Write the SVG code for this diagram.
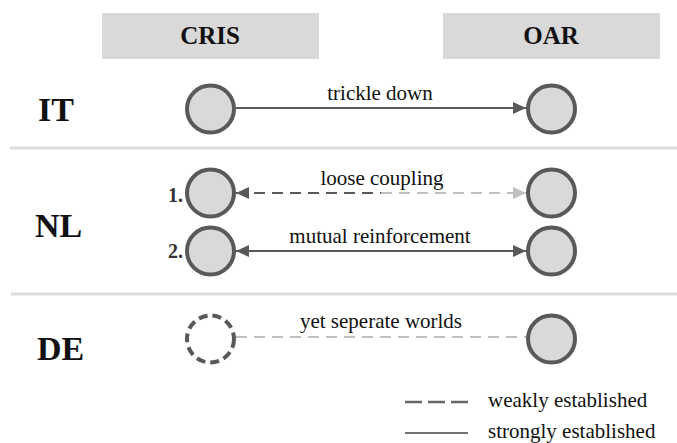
<svg xmlns="http://www.w3.org/2000/svg" width="677" height="443" viewBox="0 0 677 443">
<style>
text{font-family:"Liberation Serif","Times New Roman",serif;fill:#111}
.hdr{font-size:25px;font-weight:bold;text-anchor:middle}
.row{font-size:34px;font-weight:bold}
.num{font-size:20px;font-weight:bold;text-anchor:end;fill:#333}
.lbl{font-size:21px;text-anchor:middle}
.leg{font-size:21px}
.box{fill:#d9d9d9}
.sep{stroke:#dcdcdc;stroke-width:3}
.node{fill:#d9d9d9;stroke:#595959;stroke-width:4}
.dnode{fill:#fff;stroke:#595959;stroke-width:4;stroke-dasharray:9 5}
.dark{stroke:#595959;stroke-width:2;fill:none}
.light{stroke:#bfbfbf;stroke-width:2;fill:none}
.dash{stroke-dasharray:11 7}
</style>
<defs>
<marker id="ad" viewBox="0 0 13 12" refX="13" refY="6" markerWidth="13" markerHeight="12" markerUnits="userSpaceOnUse" orient="auto-start-reverse"><path d="M0,0 L13,6 L0,12 z" fill="#595959"/></marker>
<marker id="al" viewBox="0 0 13 12" refX="13" refY="6" markerWidth="13" markerHeight="12" markerUnits="userSpaceOnUse" orient="auto-start-reverse"><path d="M0,0 L13,6 L0,12 z" fill="#bfbfbf"/></marker>
</defs>
<g id="headers">
<rect class="box" x="102" y="13" width="217" height="46"/>
<text class="hdr" x="210" y="44">CRIS</text>
<rect class="box" x="443" y="13" width="217" height="46"/>
<text class="hdr" x="551" y="44">OAR</text>
</g>
<g id="separators">
<line class="sep" x1="10" y1="148" x2="677" y2="148"/>
<line class="sep" x1="11" y1="294" x2="677" y2="294"/>
</g>
<g id="row-labels">
<text class="row" x="38" y="121">IT</text>
<text class="row" x="35" y="237">NL</text>
<text class="row" x="37" y="360">DE</text>
<text class="num" x="183" y="202">1.</text>
<text class="num" x="183" y="258">2.</text>
</g>
<g id="connectors">
<line class="dark" x1="236" y1="108" x2="526" y2="108" marker-end="url(#ad)"/>
<line class="dark dash" x1="236" y1="193" x2="381" y2="193" marker-start="url(#ad)"/>
<line class="light dash" x1="381" y1="193" x2="526" y2="193" marker-end="url(#al)"/>
<line class="dark" x1="236" y1="251" x2="526" y2="251" marker-start="url(#ad)" marker-end="url(#ad)"/>
<line class="light dash" x1="236" y1="337" x2="526" y2="337" stroke="#cfcfcf"/>
</g>
<g id="connector-labels">
<text class="lbl" x="380" y="100">trickle down</text>
<text class="lbl" x="382" y="185">loose coupling</text>
<text class="lbl" x="380" y="243">mutual reinforcement</text>
<text class="lbl" x="381" y="328">yet seperate worlds</text>
</g>
<g id="node-it-cris"><circle class="node" cx="210.5" cy="109" r="23.5"/></g>
<g id="node-it-oar"><circle class="node" cx="551.5" cy="109" r="23.5"/></g>
<g id="node-nl1-cris"><circle class="node" cx="210.5" cy="193" r="23.5"/></g>
<g id="node-nl1-oar"><circle class="node" cx="551.5" cy="193" r="23.5"/></g>
<g id="node-nl2-cris"><circle class="node" cx="210.5" cy="251" r="23.5"/></g>
<g id="node-nl2-oar"><circle class="node" cx="551.5" cy="251" r="23.5"/></g>
<g id="node-de-cris"><circle class="dnode" cx="210.5" cy="339" r="23.5"/></g>
<g id="node-de-oar"><circle class="node" cx="551.5" cy="339" r="23.5"/></g>
<g id="legend">
<line x1="405" y1="402" x2="468" y2="402" stroke="#666" stroke-width="2.5" stroke-dasharray="17 6"/>
<line x1="405" y1="433" x2="468" y2="433" stroke="#444" stroke-width="1.5"/>
<text class="leg" x="488" y="407">weakly established</text>
<text class="leg" x="488" y="438">strongly established</text>
</g>
</svg>
